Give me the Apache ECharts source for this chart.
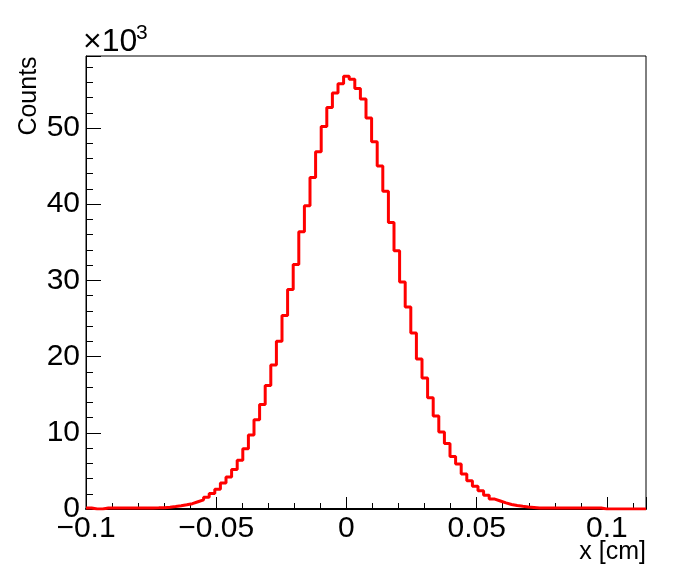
<!DOCTYPE html>
<html>
<head>
<meta charset="utf-8">
<script src="https://cdn.jsdelivr.net/npm/echarts@6/dist/echarts.min.js"></script>
<style>
  html, body { margin: 0; padding: 0; background: #fff; }
  #chart { width: 676px; height: 565px; }
</style>
</head>
<body>
<div id="chart"></div>
<script>
// Histogram binning (x in cm)
const binLow = -0.1;
const binHigh = 0.115;
const nBins = 100;

// Bin contents (counts), bins 0..99
const counts = [
  130, 0, 0, 120, 120, 130, 120, 120, 130, 120, 130, 140, 150, 170,
  230, 320, 420, 550, 700, 950, 1200, 1550, 2050, 2600, 3400, 4200,
  5200, 6400, 7900, 9700, 11700, 13700, 16200, 18900, 22000, 25400,
  28800, 32100, 36400, 39800, 43500, 46900, 50200, 52700, 54600, 55800,
  56800, 56400, 55200, 53800, 51300, 48200, 45000, 41700, 37600, 33900,
  29800, 26500, 23100, 19700, 17200, 14600, 12200, 10100, 8600, 6900,
  5900, 4600, 3700, 3000, 2400, 1800, 1300, 1050, 800, 600,
  450, 350, 270, 200,
  120, 120, 120, 120, 120, 120, 120, 120, 120, 120, 120, 120,
  0, 0, 0, 0, 0, 0, 0, 0
];

// Axis ticks
const xTickInterval = 0.05;
const yTickInterval = 10000;
const yMax = 59450;

const binWidth = (binHigh - binLow) / nBins;
const stepData = counts.map((c, i) => [binLow + i * binWidth, c]);
stepData.push([binHigh, counts[counts.length - 1]]);

const chart = echarts.init(document.getElementById('chart'), null, { renderer: 'canvas' });
const font = '"Liberation Sans", Arial, Helvetica, sans-serif';

chart.setOption({
  animation: false,
  backgroundColor: '#ffffff',
  grid: [
    { left: 86, right: 30, top: 56, bottom: 56,
      show: true, borderColor: '#000', borderWidth: 1, backgroundColor: 'transparent' },
    // narrow strips along the left frame: their split lines act as inward y ticks
    { left: 86, width: 15, top: 56, bottom: 56, show: false },
    { left: 86, width: 7, top: 56, bottom: 56, show: false }
  ],
  xAxis: [{
    type: 'value', gridIndex: 0,
    min: binLow, max: binHigh, interval: xTickInterval,
    axisLine: { show: true, onZero: false, lineStyle: { color: '#000', width: 2 } },
    axisTick: { show: true, inside: true, length: 12, lineStyle: { color: '#000', width: 1 } },
    minorTick: { show: true, splitNumber: 5, length: 6, lineStyle: { color: '#000', width: 1 } },
    splitLine: { show: false },
    axisLabel: {
      show: true, margin: 5, color: '#000', fontSize: 30, fontFamily: font,
      showMaxLabel: false,
      formatter: v => String(Math.round(v * 1000) / 1000).replace('-', '\u2212')
    }
  }, {
    type: 'value', gridIndex: 1, min: 0, max: 1, show: false
  }, {
    type: 'value', gridIndex: 2, min: 0, max: 1, show: false
  }],
  yAxis: [{
    type: 'value', gridIndex: 0, position: 'left',
    min: 0, max: yMax, interval: yTickInterval,
    axisLine: { show: true, onZero: false, lineStyle: { color: '#000', width: 1 } },
    axisTick: { show: false },
    minorTick: { show: false },
    splitLine: { show: false },
    axisLabel: {
      show: true, margin: 6, color: '#000', fontSize: 30, fontFamily: font,
      showMaxLabel: false,
      formatter: v => String(Math.round(v / 1000))
    }
  }, {
    // major y ticks (15 px)
    type: 'value', gridIndex: 1,
    min: 0, max: yMax, interval: yTickInterval,
    axisLine: { show: false, onZero: false },
    axisTick: { show: false },
    axisLabel: { show: false },
    splitLine: { show: true, lineStyle: { color: '#000', width: 1 } }
  }, {
    // minor y ticks (7 px)
    type: 'value', gridIndex: 2,
    min: 0, max: yMax, interval: yTickInterval,
    axisLine: { show: false, onZero: false },
    axisTick: { show: false },
    axisLabel: { show: false },
    splitLine: { show: false },
    minorTick: { show: false, splitNumber: 5 },
    minorSplitLine: { show: true, lineStyle: { color: '#000', width: 1 } }
  }],
  series: [{
    type: 'line',
    step: 'end',
    xAxisIndex: 0,
    yAxisIndex: 0,
    data: stepData,
    showSymbol: false,
    clip: true,
    lineStyle: { color: '#ff0000', width: 3 },
    z: 5
  }],
  graphic: [
    {
      type: 'text', x: 29, y: 96, rotation: Math.PI / 2,
      style: { text: 'Counts', font: '25px ' + font, fill: '#000', align: 'center', verticalAlign: 'middle' }
    },
    {
      type: 'text', x: 646, y: 552,
      style: { text: 'x [cm]', font: '25px ' + font, fill: '#000', align: 'right', verticalAlign: 'middle' }
    },
    {
      type: 'text', x: 83, y: 42,
      style: { text: '\u00d710', font: '32px ' + font, fill: '#000', align: 'left', verticalAlign: 'middle' }
    },
    {
      type: 'text', x: 136, y: 33,
      style: { text: '3', font: '21px ' + font, fill: '#000', align: 'left', verticalAlign: 'middle' }
    }
  ]
});
</script>
</body>
</html>
